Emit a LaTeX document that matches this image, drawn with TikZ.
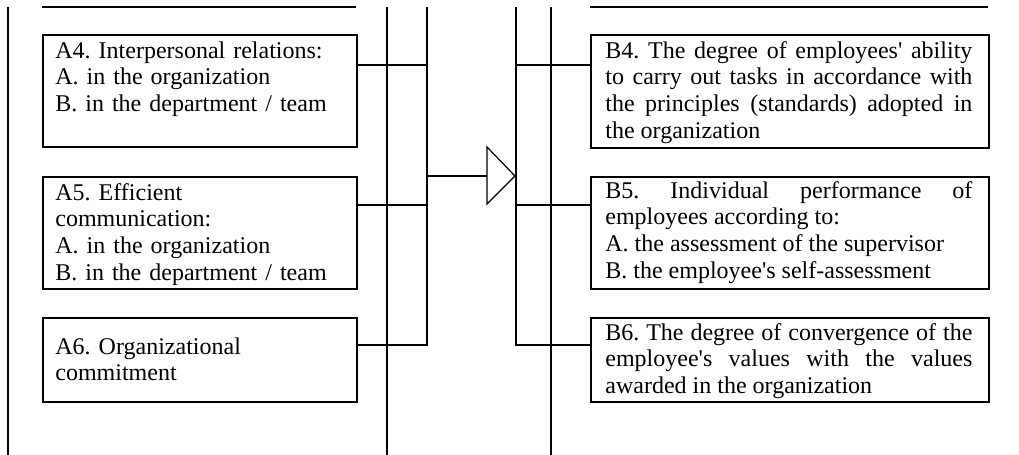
\documentclass[tikz,border=0pt]{standalone}
\usepackage{fontspec}
\setmainfont{Liberation Serif}[Ligatures=TeXOff]
\frenchspacing

\tikzset{
  bus/.style={line width=1pt},
  box/.style={draw, line width=1pt, anchor=north west, inner sep=0pt},
  abox/.style={box, minimum width=157pt},
  bbox/.style={box, minimum width=199pt},
  txt/.style={anchor=base west, inner sep=0pt, font=\fontsize{12}{13.4}\selectfont},
  atxt/.style={txt, text width=143pt, align=left},
  btxt/.style={txt, text width=183.5pt, align=justify},
}

\begin{document}
\begin{tikzpicture}[x=0.5pt,y=-0.5pt]
\useasboundingbox (0,0) rectangle (1019,455);

% left column
\draw[bus] (8,7) -- (8,455);
\draw[bus] (42,7) -- (356,7);
\node[abox, minimum height=56pt] (a4) at (42,34) {};
\node[abox, minimum height=56pt] (a5) at (42,176) {};
\node[abox, minimum height=42pt] (a6) at (42,317) {};
\node[atxt] (a4t) at ([xshift=6.5pt,yshift=-12pt]a4.north west)
  {A4. Interpersonal relations:\\A. in the organization\\B. in the department / team};
\node[atxt] (a5t) at ([xshift=6.5pt,yshift=-12pt]a5.north west)
  {A5. Efficient\\communication:\\A. in the organization\\B. in the department / team};
\node[atxt] (a6t) at ([xshift=6.5pt,yshift=-18.5pt]a6.north west)
  {A6. Organizational\\commitment};

% buses
\coordinate (lbus) at (427,7);
\coordinate (rbus) at (516,7);
\draw[bus] (387,7) -- (387,455);
\draw[bus] (551,7) -- (551,455);
\draw[bus] (lbus) |- ([yshift=-14pt]a6.north east);
\draw[bus] ([yshift=-15.5pt]a4.north east) coordinate (p4) -- (p4 -| lbus);
\draw[bus] ([yshift=-14.5pt]a5.north east) coordinate (p5) -- (p5 -| lbus);

% arrow
\coordinate (arr) at (487,176);
\draw[line width=0.6pt] (487,147) -- (515,176) -- (487,204) -- cycle;
\draw[bus] (arr -| lbus) -- (arr);

% right column
\draw[bus] (590,7) -- (988,7);
\node[bbox, minimum height=56.5pt] (b4) at (590,34) {};
\node[bbox, minimum height=56pt] (b5) at (590,176) {};
\node[bbox, minimum height=42pt] (b6) at (590,317) {};
\node[btxt] (b4t) at ([xshift=7.5pt,yshift=-12pt]b4.north west)
  {B4. The degree of employees' ability\linebreak to carry out tasks in accordance with\linebreak the principles (standards) adopted in\linebreak the organization};
\node[btxt] (b5t) at ([xshift=7.5pt,yshift=-11pt]b5.north west)
  {B5. Individual performance of\linebreak employees according to:\\A. the assessment of the supervisor\\B. the employee's self-assessment};
\node[btxt] (b6t) at ([xshift=7.5pt,yshift=-11.5pt]b6.north west)
  {B6. The degree of convergence of the\linebreak employee's values with the values\linebreak awarded in the organization};
\draw[bus] (rbus) |- ([yshift=-14pt]b6.north west);
\draw[bus] ([yshift=-15.5pt]b4.north west) coordinate (q4) -- (q4 -| rbus);
\draw[bus] ([yshift=-14.5pt]b5.north west) coordinate (q5) -- (q5 -| rbus);
\end{tikzpicture}
\end{document}
